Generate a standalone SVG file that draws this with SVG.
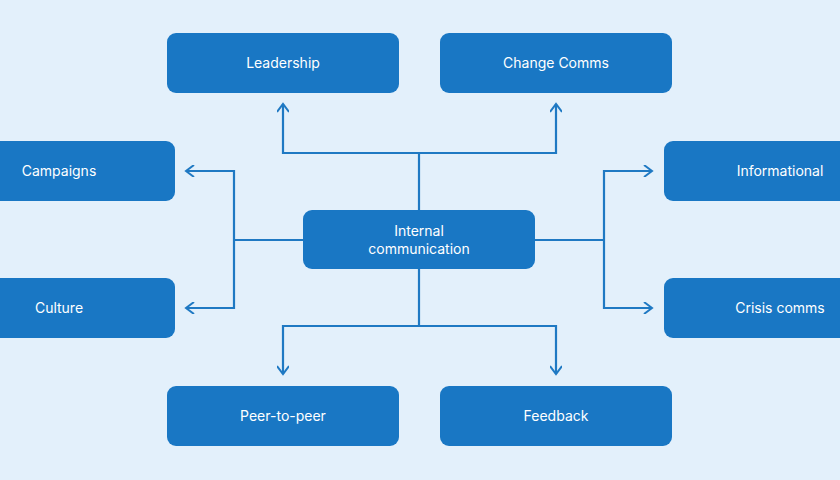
<svg xmlns="http://www.w3.org/2000/svg" width="840" height="480" viewBox="0 0 840 480">
<defs>
<style>
.n rect{fill:#1977c4}
.n text{fill:#fff;font-family:Inter,"Liberation Sans",sans-serif;font-size:14px;text-anchor:middle}
.c path{fill:none;stroke:#1f79c3;stroke-width:2.2}
</style>
<marker id="a" viewBox="0 0 12 12" refX="10" refY="6" markerWidth="12" markerHeight="12" markerUnits="userSpaceOnUse" orient="auto"><path d="M2,0 L10,6 L2,12" fill="none" stroke="#1f79c3" stroke-width="2"/></marker>
</defs>
<rect width="840" height="480" fill="#e3f0fb"/>
<g class="c">
<path d="M419,210 V153"/>
<path d="M419,153 H283 V104" marker-end="url(#a)"/>
<path d="M419,153 H556 V104" marker-end="url(#a)"/>
<path d="M303,240 H234"/>
<path d="M234,240 V171 H186" marker-end="url(#a)"/>
<path d="M234,240 V308 H186" marker-end="url(#a)"/>
<path d="M535,240 H604"/>
<path d="M604,240 V171 H652" marker-end="url(#a)"/>
<path d="M604,240 V308 H652" marker-end="url(#a)"/>
<path d="M419,269 V326"/>
<path d="M419,326 H283 V374" marker-end="url(#a)"/>
<path d="M419,326 H556 V374" marker-end="url(#a)"/>
</g>
<g id="leadership" class="n"><rect x="167" y="33" width="232" height="60" rx="9"/><text x="283" y="68">Leadership</text></g>
<g id="change" class="n"><rect x="440" y="33" width="232" height="60" rx="9"/><text x="556" y="68">Change Comms</text></g>
<g id="campaigns" class="n"><rect x="-57" y="141" width="232" height="60" rx="9"/><text x="59" y="176">Campaigns</text></g>
<g id="culture" class="n"><rect x="-57" y="278" width="232" height="60" rx="9"/><text x="59" y="313">Culture</text></g>
<g id="center" class="n"><rect x="303" y="210" width="232" height="59" rx="9"/><text x="419" y="236">Internal</text><text x="419" y="254">communication</text></g>
<g id="informational" class="n"><rect x="664" y="141" width="232" height="60" rx="9"/><text x="780" y="176">Informational</text></g>
<g id="crisis" class="n"><rect x="664" y="278" width="232" height="60" rx="9"/><text x="780" y="313">Crisis comms</text></g>
<g id="peer" class="n"><rect x="167" y="386" width="232" height="60" rx="9"/><text x="283" y="421">Peer-to-peer</text></g>
<g id="feedback" class="n"><rect x="440" y="386" width="232" height="60" rx="9"/><text x="556" y="421">Feedback</text></g>
</svg>
